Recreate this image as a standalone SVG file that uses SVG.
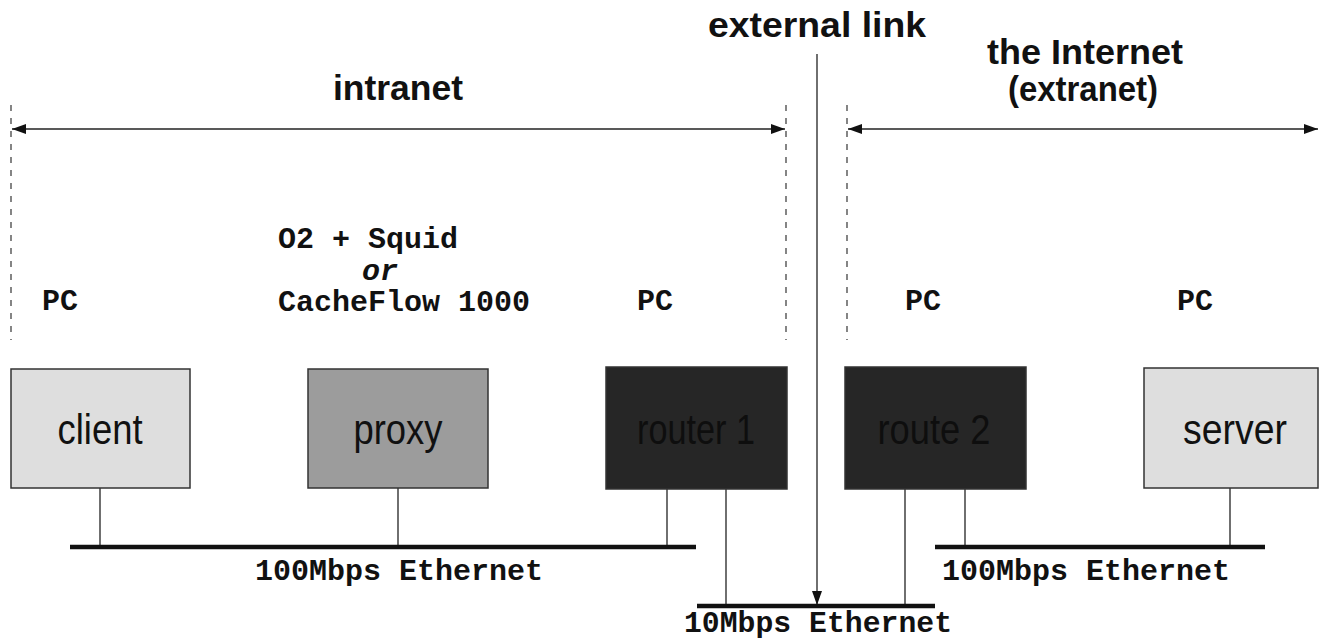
<svg xmlns="http://www.w3.org/2000/svg" width="1319" height="641" viewBox="0 0 1319 641">
<defs>
<marker id="ah" viewBox="0 0 14 10" refX="14" refY="5" markerWidth="14" markerHeight="10" markerUnits="userSpaceOnUse" orient="auto-start-reverse">
<path d="M0,0 L14,5 L0,10 z" fill="#111"/>
</marker>
</defs>
<style>
.box{stroke:#333;stroke-width:1.5}
.lbl{font-family:"Liberation Sans",Arial,sans-serif;font-size:43px;text-anchor:middle}
.title{font-family:"Liberation Sans",Arial,sans-serif;font-weight:bold;font-size:35px;text-anchor:middle;fill:#111}
.mono{font-family:"Liberation Mono","Courier New",monospace;font-weight:bold;font-size:30px;fill:#111}
.wire{stroke:#222;stroke-width:1.3;fill:none}
.bus{stroke:#111;stroke-width:4.5}
.dash{stroke:#444;stroke-width:1.3;stroke-dasharray:6 7}
.span{stroke:#222;stroke-width:1.5;fill:none}
</style>
<rect width="1319" height="641" fill="#fff"/>
<g id="labels">
<text class="title" x="398" y="100" textLength="130" lengthAdjust="spacingAndGlyphs">intranet</text>
<text class="title" x="817" y="37" textLength="218" lengthAdjust="spacingAndGlyphs">external link</text>
<text class="title" x="1085" y="64" font-size="33" textLength="196" lengthAdjust="spacingAndGlyphs">the Internet</text>
<text class="title" x="1083" y="101" font-size="32" textLength="150" lengthAdjust="spacingAndGlyphs">(extranet)</text>
<text class="mono" x="42" y="310">PC</text>
<text class="mono" x="278" y="248">O2 + Squid</text>
<text class="mono" x="362" y="280" font-size="28" font-style="italic" font-weight="normal">or</text>
<text class="mono" x="278" y="311">CacheFlow 1000</text>
<text class="mono" x="637" y="310">PC</text>
<text class="mono" x="905" y="310">PC</text>
<text class="mono" x="1177" y="310">PC</text>
<text class="mono" x="255" y="580">100Mbps Ethernet</text>
<text class="mono" x="942" y="580">100Mbps Ethernet</text>
<text class="mono" x="684" y="632" font-size="28" textLength="268" lengthAdjust="spacingAndGlyphs">10Mbps Ethernet</text>
</g>
<g id="connectors">
<line class="dash" x1="11" y1="105" x2="11" y2="340"/>
<line class="dash" x1="786" y1="105" x2="786" y2="340"/>
<line class="dash" x1="847" y1="105" x2="847" y2="340"/>
<line class="span" x1="12" y1="129" x2="785" y2="129" marker-start="url(#ah)" marker-end="url(#ah)"/>
<line class="span" x1="848" y1="129" x2="1318" y2="129" marker-start="url(#ah)" marker-end="url(#ah)"/>
<line class="wire" x1="817" y1="54" x2="817" y2="605" marker-end="url(#ah)"/>
<line class="wire" x1="100" y1="488" x2="100" y2="547"/>
<line class="wire" x1="398" y1="488" x2="398" y2="547"/>
<line class="wire" x1="667" y1="489" x2="667" y2="547"/>
<line class="wire" x1="726" y1="489" x2="726" y2="606"/>
<line class="wire" x1="905" y1="489" x2="905" y2="606"/>
<line class="wire" x1="965" y1="489" x2="965" y2="547"/>
<line class="wire" x1="1230" y1="488" x2="1230" y2="547"/>
<line class="bus" x1="70" y1="547" x2="696" y2="547"/>
<line class="bus" x1="935" y1="547" x2="1265" y2="547"/>
<line class="bus" x1="697" y1="606" x2="935" y2="606"/>
</g>
<g id="client">
<rect class="box" x="11" y="369" width="179" height="119" fill="#dedede"/>
<text class="lbl" x="100" y="444" fill="#111" textLength="85" lengthAdjust="spacingAndGlyphs">client</text>
</g>
<g id="proxy">
<rect class="box" x="308" y="369" width="180" height="119" fill="#9c9c9c"/>
<text class="lbl" x="398" y="444" fill="#111" textLength="89" lengthAdjust="spacingAndGlyphs">proxy</text>
</g>
<g id="router1">
<rect class="box" x="606" y="367" width="181" height="122" fill="#262626"/>
<text class="lbl" x="696" y="444" fill="#0e0e0e" textLength="118" lengthAdjust="spacingAndGlyphs">router 1</text>
</g>
<g id="route2">
<rect class="box" x="845" y="367" width="181" height="122" fill="#262626"/>
<text class="lbl" x="934" y="444" fill="#0e0e0e" textLength="113" lengthAdjust="spacingAndGlyphs">route 2</text>
</g>
<g id="server">
<rect class="box" x="1144" y="368" width="174" height="120" fill="#dedede"/>
<text class="lbl" x="1235" y="444" fill="#111" textLength="104" lengthAdjust="spacingAndGlyphs">server</text>
</g>
</svg>
